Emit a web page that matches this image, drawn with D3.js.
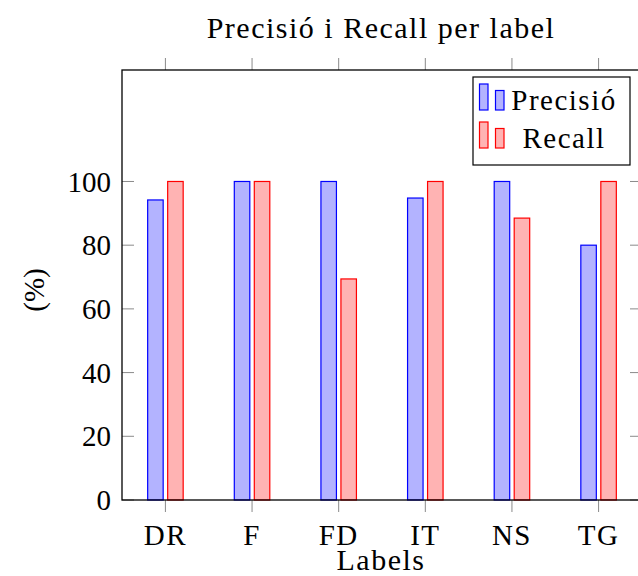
<!DOCTYPE html>
<html>
<head>
<meta charset="utf-8">
<script src="https://cdn.jsdelivr.net/npm/d3@7"></script>
<style>
  body { margin: 0; background: #fff; }
  text { font-family: "Liberation Serif", "DejaVu Serif", serif; fill: #000; }
  .word { letter-spacing: 1.5px; }
</style>
</head>
<body>
<svg id="chart"></svg>
<script>
// chart data
var labels = ["DR", "F", "FD", "IT", "NS", "TG"];
var series = ["Precisió", "Recall"];
var precisio = [94.2, 100, 100, 94.8, 100, 80];
var recall = [100, 100, 69.4, 100, 88.5, 100];
var yTicks = [0, 20, 40, 60, 80, 100];

var width = 638, height = 576;
var margin = { top: 70, right: -4, bottom: 76, left: 122 };
var plotW = width - margin.left - margin.right;
var plotH = height - margin.top - margin.bottom;

var svg = d3.select("#chart")
    .attr("width", width)
    .attr("height", height);

var g = svg.append("g")
    .attr("transform", "translate(" + margin.left + "," + margin.top + ")");

// scales
var x = d3.scalePoint()
    .domain(labels)
    .range([plotW * 0.0835, plotW * (1 - 0.0835)]);

var xSub = d3.scaleBand()
    .domain(series)
    .range([-17.75, 17.75])
    .paddingInner(0.225);

var y = d3.scaleLinear()
    .domain([0, 135])
    .range([plotH, 0]);

var colors = {
    "Precisió": { fill: "#b3b3ff", stroke: "#0000ff" },
    "Recall": { fill: "#ffb3b3", stroke: "#ff0000" }
};

var rows = labels.map((l, i) => ({ label: l, values: [precisio[i], recall[i]] }));

// bars
var groups = g.selectAll("g.cat")
    .data(rows)
    .enter()
    .append("g")
    .attr("class", "cat")
    .attr("transform", (d) => "translate(" + x(d.label) + ",0)");

groups.selectAll("rect")
    .data((d) => d.values.map((v, j) => ({ key: series[j], value: v })))
    .enter()
    .append("rect")
    .attr("x", (d) => xSub(d.key))
    .attr("width", xSub.bandwidth())
    .attr("y", (d) => y(d.value))
    .attr("height", (d) => y(0) - y(d.value))
    .attr("fill", (d) => colors[d.key].fill)
    .attr("stroke", (d) => colors[d.key].stroke)
    .attr("stroke-width", 1.2);

// ticks
var tickColor = "#8a8a8a";
var tl = 12;

g.selectAll("line.xtb")
    .data(labels)
    .enter()
    .append("line")
    .attr("x1", (d) => x(d)).attr("x2", (d) => x(d))
    .attr("y1", plotH).attr("y2", plotH + tl)
    .attr("stroke", tickColor).attr("stroke-width", 1);

g.selectAll("line.xtt")
    .data(labels)
    .enter()
    .append("line")
    .attr("x1", (d) => x(d)).attr("x2", (d) => x(d))
    .attr("y1", 0).attr("y2", -tl)
    .attr("stroke", tickColor).attr("stroke-width", 1);

g.selectAll("line.ytl")
    .data(yTicks)
    .enter()
    .append("line")
    .attr("x1", 0).attr("x2", tl)
    .attr("y1", (d) => y(d)).attr("y2", (d) => y(d))
    .attr("stroke", tickColor).attr("stroke-width", 1);

g.selectAll("line.ytr")
    .data(yTicks)
    .enter()
    .append("line")
    .attr("x1", plotW - tl).attr("x2", plotW)
    .attr("y1", (d) => y(d)).attr("y2", (d) => y(d))
    .attr("stroke", tickColor).attr("stroke-width", 1);

// frame
g.append("rect")
    .attr("width", plotW)
    .attr("height", plotH)
    .attr("fill", "none")
    .attr("stroke", "#000")
    .attr("stroke-width", 1.3);

// tick labels
g.selectAll("text.xl")
    .data(labels)
    .enter()
    .append("text")
    .attr("class", "word")
    .attr("x", (d) => x(d))
    .attr("y", plotH + 45)
    .attr("text-anchor", "middle")
    .style("font-size", "29px")
    .text((d) => d);

g.selectAll("text.yl")
    .data(yTicks)
    .enter()
    .append("text")
    .attr("x", -11)
    .attr("y", (d) => y(d))
    .attr("dy", "0.35em")
    .attr("text-anchor", "end")
    .style("font-size", "29px")
    .text((d) => d);

// axis titles
svg.append("text")
    .attr("class", "word")
    .attr("x", 381)
    .attr("y", 570)
    .attr("text-anchor", "middle")
    .style("font-size", "30px")
    .text("Labels");

svg.append("text")
    .attr("transform", "translate(44,290) rotate(-90)")
    .attr("text-anchor", "middle")
    .style("font-size", "29px")
    .text("(%)");

svg.append("text")
    .attr("class", "word")
    .attr("x", 381)
    .attr("y", 38)
    .attr("text-anchor", "middle")
    .style("font-size", "30px")
    .text("Precisió i Recall per label");

// legend
var legend = svg.append("g").attr("transform", "translate(473,77)");

legend.append("rect")
    .attr("width", 157)
    .attr("height", 88)
    .attr("fill", "#fff")
    .attr("stroke", "#000")
    .attr("stroke-width", 1.2);

var items = legend.selectAll("g.item")
    .data(series)
    .enter()
    .append("g")
    .attr("class", "item")
    .attr("transform", (d, i) => "translate(0," + (33 + i * 38) + ")");

items.append("rect")
    .attr("x", 6.5).attr("y", -26)
    .attr("width", 8.5).attr("height", 26)
    .attr("fill", (d) => colors[d].fill)
    .attr("stroke", (d) => colors[d].stroke)
    .attr("stroke-width", 1.2);

items.append("rect")
    .attr("x", 22.5).attr("y", -19.5)
    .attr("width", 8.5).attr("height", 19.5)
    .attr("fill", (d) => colors[d].fill)
    .attr("stroke", (d) => colors[d].stroke)
    .attr("stroke-width", 1.2);

items.append("text")
    .attr("class", "word")
    .attr("x", 91)
    .attr("y", 0)
    .attr("text-anchor", "middle")
    .style("font-size", "29px")
    .text((d) => d);
</script>
</body>
</html>
